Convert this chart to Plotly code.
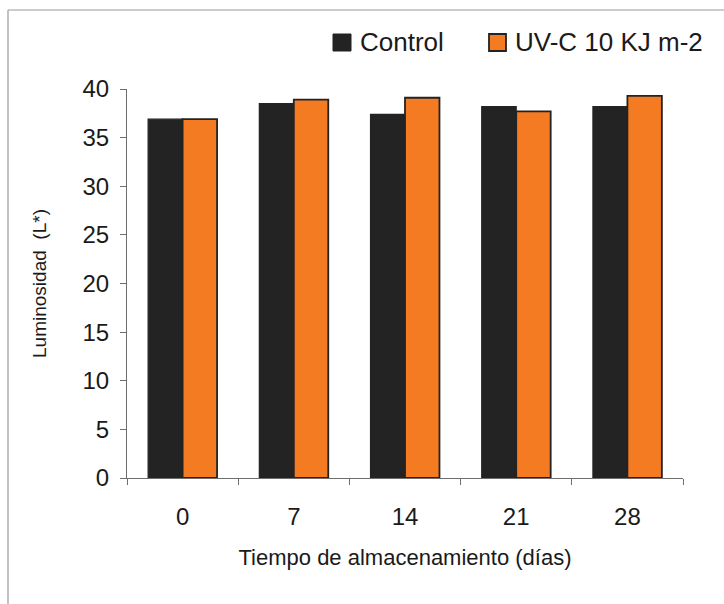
import plotly.graph_objects as go

# Storage time (days) and lightness L* for each treatment
dias = ["0", "7", "14", "21", "28"]
control = [36.9, 38.5, 37.4, 38.2, 38.2]
uvc = [36.9, 38.9, 39.1, 37.7, 39.3]

serie_control = "Control"
serie_uvc = "UV-C 10 KJ m-2"
titulo_x = "Tiempo de almacenamiento (días)"
titulo_y = "Luminosidad  (L*)"

W, H = 724, 604
ML, MR, MT, MB = 127, 41, 89, 126
PW, PH = W - ML - MR, H - MT - MB

FONT = "Liberation Sans, Arial, sans-serif"
INK = "#1a1a1a"
DARK = "#232323"
ORANGE = "#f47b22"
AXIS = "#6e6e6e"


def px(x):
    return (x - ML) / PW


def py(y):
    return (H - MB - y) / PH


fig = go.Figure()
fig.add_trace(go.Bar(x=dias, y=control, name=serie_control,
                     marker=dict(color=DARK, line=dict(color=DARK, width=1.2))))
fig.add_trace(go.Bar(x=dias, y=uvc, name=serie_uvc,
                     marker=dict(color=ORANGE, line=dict(color=DARK, width=1.8))))

shapes = [
    # outer frame (top and left edges)
    dict(type="line", xref="paper", yref="paper", x0=px(8), x1=px(740), y0=py(10), y1=py(10),
         line=dict(color="#9a9a9a", width=1.2)),
    dict(type="line", xref="paper", yref="paper", x0=px(8), x1=px(8), y0=py(10), y1=py(620),
         line=dict(color="#9a9a9a", width=1.2)),
    # legend swatches
    dict(type="rect", xref="paper", yref="paper", x0=px(333), x1=px(351), y0=py(51), y1=py(34),
         fillcolor=DARK, line=dict(color=DARK, width=1)),
    dict(type="rect", xref="paper", yref="paper", x0=px(489), x1=px(506), y0=py(51), y1=py(34),
         fillcolor=ORANGE, line=dict(color=DARK, width=1.8)),
]

annotations = [
    dict(text=serie_control, xref="paper", yref="paper", x=px(358), y=py(42.5),
         xanchor="left", yanchor="middle", showarrow=False,
         font=dict(family=FONT, size=26, color=INK)),
    dict(text=serie_uvc, xref="paper", yref="paper", x=px(513), y=py(42.5),
         xanchor="left", yanchor="middle", showarrow=False,
         font=dict(family=FONT, size=26, color=INK)),
]

fig.update_layout(
    width=W, height=H,
    margin=dict(l=ML, r=MR, t=MT, b=MB, autoexpand=False),
    paper_bgcolor="white", plot_bgcolor="white",
    barmode="group", bargap=0.38, bargroupgap=0,
    showlegend=False,
    font=dict(family=FONT, color=INK),
    shapes=shapes,
    annotations=annotations,
)

fig.update_xaxes(
    type="category",
    showline=True, linecolor=AXIS, linewidth=1.2,
    ticks="outside", tickson="boundaries", ticklen=6, tickcolor=AXIS, tickwidth=1.2,
    ticklabelstandoff=17,
    tickfont=dict(family=FONT, size=24, color=INK),
    showgrid=False, zeroline=False,
    title=dict(text=titulo_x, font=dict(family=FONT, size=22, color=INK), standoff=20),
)
fig.update_yaxes(
    range=[0, 40], tickvals=[0, 5, 10, 15, 20, 25, 30, 35, 40],
    showline=True, linecolor=AXIS, linewidth=1.2,
    ticks="outside", ticklen=6, tickcolor=AXIS, tickwidth=1.2,
    ticklabelstandoff=6,
    tickfont=dict(family=FONT, size=24, color=INK),
    showgrid=False, zeroline=False,
    title=dict(text=titulo_y, font=dict(family=FONT, size=19, color=INK), standoff=30),
)

fig.write_html("out.html")
